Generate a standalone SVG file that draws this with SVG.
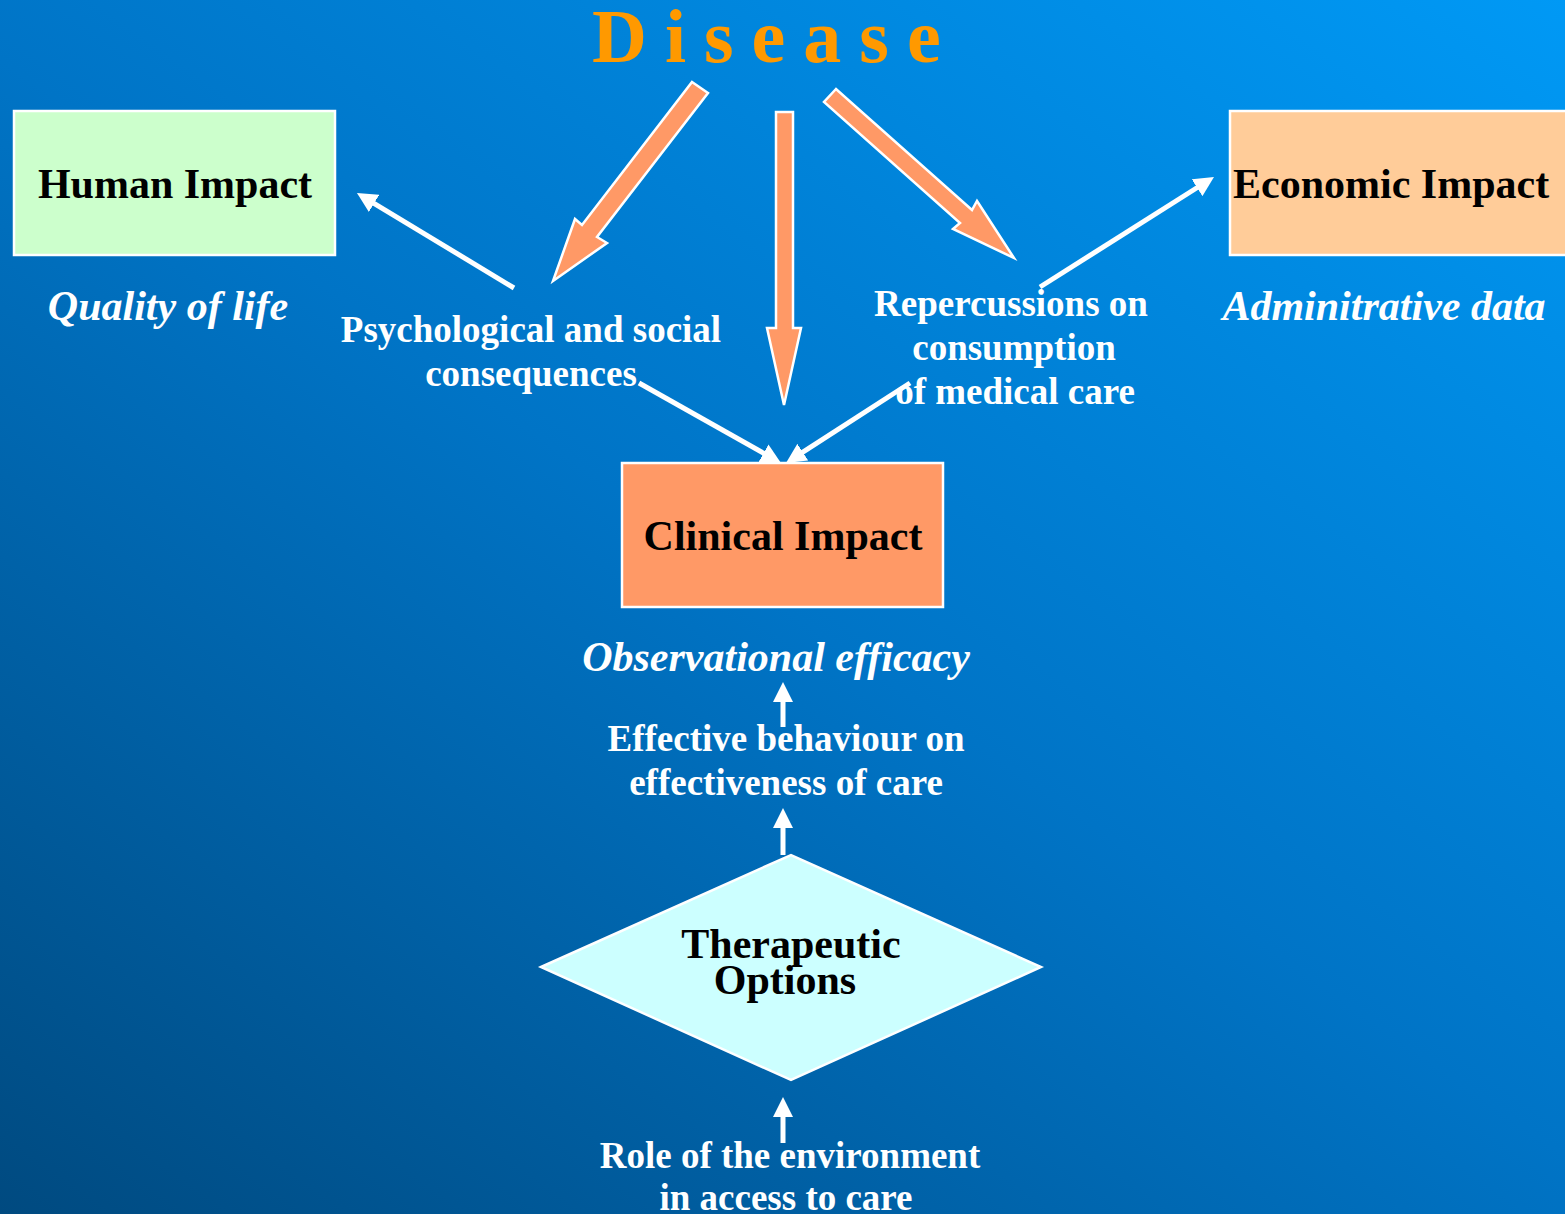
<svg xmlns="http://www.w3.org/2000/svg" width="1565" height="1214" viewBox="0 0 1565 1214">
  <defs>
    <linearGradient id="bg" gradientUnits="userSpaceOnUse" x1="0" y1="1214" x2="1086" y2="-336">
      <stop offset="0" stop-color="#004A80"/>
      <stop offset="0.5" stop-color="#0074C6"/>
      <stop offset="1" stop-color="#0099F5"/>
    </linearGradient>
    <marker id="head" viewBox="0 0 4 4" refX="1" refY="2" markerWidth="4" markerHeight="4" orient="auto">
      <path d="M0,0 L4,2 L0,4 z" fill="#FFFFFF"/>
    </marker>
    <style>
      text { font-family: "Liberation Serif", "Times New Roman", serif; }
      .title { font-size: 42px; font-weight: bold; fill: #000000; }
      .label { font-size: 37px; font-weight: bold; fill: #FFFFFF; text-anchor: middle; }
      .metric { font-size: 42px; font-style: italic; font-weight: bold; fill: #FFFFFF; text-anchor: middle; }
      .box { stroke: #FFFFFF; stroke-width: 2.5; }
      .flow { fill: #FF9966; stroke: #FFFFFF; stroke-width: 2.5; stroke-linejoin: miter; }
      .link { stroke: #FFFFFF; stroke-width: 5; fill: none; marker-end: url(#head); }
    </style>
  </defs>

  <rect x="0" y="0" width="1565" height="1214" fill="url(#bg)"/>

  <!-- central title -->
  <g id="disease">
    <text x="592" y="62" font-size="76" font-weight="bold" fill="#FF9900" letter-spacing="18">Disease</text>
  </g>

  <!-- wide orange flows out of Disease -->
  <g id="disease-flows">
    <polygon class="flow" points="692,82 708,93 597,237 607,243 553,281 575,219 582,225"/>
    <polygon class="flow" points="776,112 793,112 793,328 801,328 784,405 767,328 776,328"/>
    <polygon class="flow" points="836,89 824,102 960,223 953,229 1014,258 977,201 972,210"/>
  </g>

  <g id="human-impact">
    <rect class="box" x="14" y="111" width="321" height="144" fill="#CCFFCC"/>
    <text class="title" x="175" y="198" text-anchor="middle">Human Impact</text>
    <text class="metric" x="168" y="320">Quality of life</text>
  </g>

  <g id="economic-impact">
    <rect class="box" x="1230" y="111" width="345" height="144" fill="#FFCC99"/>
    <text class="title" x="1233" y="198">Economic Impact</text>
    <text class="metric" x="1384" y="320">Adminitrative data</text>
  </g>

  <g id="psychological">
    <text class="label" x="531" y="342">Psychological and social</text>
    <text class="label" x="531" y="386">consequences</text>
  </g>

  <g id="repercussions">
    <text class="label" x="1011" y="316">Repercussions on</text>
    <text class="label" x="1014" y="360">consumption</text>
    <text class="label" x="1015" y="404">of medical care</text>
  </g>

  <g id="clinical-impact">
    <rect class="box" x="622" y="463" width="321" height="144" fill="#FF9966"/>
    <text class="title" x="783" y="550" text-anchor="middle">Clinical Impact</text>
    <text class="metric" x="776" y="671">Observational efficacy</text>
  </g>

  <g id="effective-behaviour">
    <text class="label" x="786" y="751">Effective behaviour on</text>
    <text class="label" x="786" y="795">effectiveness of care</text>
  </g>

  <g id="therapeutic-options">
    <polygon class="box" points="541,967 791,855 1041,967 791,1080" fill="#CCFFFF"/>
    <text class="title" x="791" y="958" text-anchor="middle">Therapeutic</text>
    <text class="title" x="785" y="994" text-anchor="middle">Options</text>
  </g>

  <g id="environment">
    <text class="label" x="790" y="1168">Role of the environment</text>
    <text class="label" x="786" y="1210">in access to care</text>
  </g>

  <!-- thin white connectors -->
  <g id="connectors">
    <line class="link" x1="514" y1="288" x2="369.8" y2="200.8"/>
    <line class="link" x1="1040" y1="287" x2="1201.3" y2="185"/>
    <line class="link" x1="639" y1="383" x2="767.9" y2="455.6"/>
    <line class="link" x1="910" y1="383" x2="798.6" y2="454.9"/>
    <line class="link" x1="783" y1="727" x2="783" y2="697"/>
    <line class="link" x1="783" y1="855" x2="783" y2="823"/>
    <line class="link" x1="783" y1="1143" x2="783" y2="1112"/>
  </g>
</svg>
